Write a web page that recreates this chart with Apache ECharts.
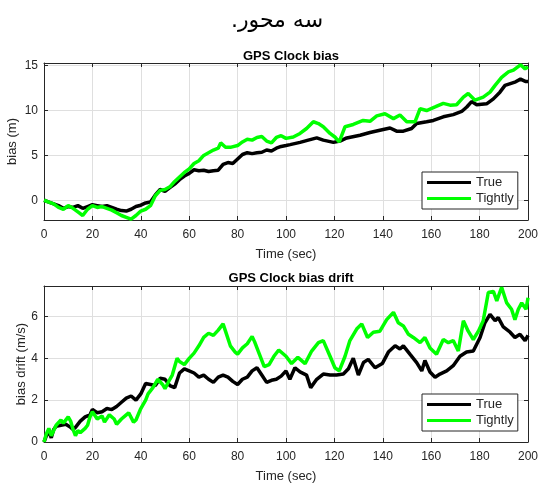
<!DOCTYPE html>
<html>
<head>
<meta charset="utf-8">
<script src="https://cdn.jsdelivr.net/npm/echarts@6/dist/echarts.min.js"></script>
<style>
  html, body { margin: 0; padding: 0; background: #fff; }
  #chart { width: 539px; height: 485px; }
</style>
</head>
<body>
<div id="chart"></div>
<script>
// top plot: clock bias (m)
const biasTrueT = [0, 2, 4, 6, 8, 10, 12, 14, 16, 18, 20, 22, 24, 26, 28, 30, 32, 34, 36, 38, 40, 42, 44, 46, 48, 50, 52, 54, 56, 58, 60, 62, 64, 66, 68, 70, 72, 74, 76, 78, 80, 82, 84, 86, 88, 90, 92, 94, 96, 98,
  100, 101.7, 105.8, 109.2, 112.7, 115.4, 119.6, 122.3, 125.1, 130.6, 134.7, 138.8, 143, 145.7, 148.5, 151.9, 154, 158.1, 160.9, 165, 169.1, 172.6, 174.7, 176.7, 178.8, 182.9, 185.7, 188.4, 190.5, 194.9, 196.9, 198.9, 200]
const biasTrue = [0, -0.2, -0.4, -0.6, -0.9, -0.7, -0.8, -0.6, -0.9, -0.7, -0.5, -0.6, -0.7, -0.6, -0.8, -1.0, -1.15, -1.2, -1.0, -0.7, -0.55, -0.3, -0.2, 0.6, 1.2, 1.0, 1.4, 1.8, 2.3, 2.7, 3.0, 3.4, 3.3, 3.35, 3.2, 3.3, 3.35, 4.0, 4.2, 4.1, 4.6, 5.1, 5.3, 5.2, 5.3, 5.35, 5.6, 5.5, 5.8, 6.0,
  6.1, 6.2, 6.45, 6.7, 6.95, 6.7, 6.45, 6.6, 6.95, 7.25, 7.55, 7.8, 8.05, 7.7, 7.7, 8.0, 8.55, 8.75, 8.9, 9.3, 9.55, 9.9, 10.4, 11.0, 10.65, 10.75, 11.3, 12.05, 12.8, 13.2, 13.5, 13.25, 13.25]
const biasTightT = [0, 2, 4, 6, 8, 10, 12, 14, 16, 18, 20, 22, 24, 26, 28, 30, 32, 34, 36, 38, 40, 42, 44, 46, 48, 50, 52, 54, 56, 58, 60, 62, 64, 66, 68, 70, 72, 73, 75, 77, 80, 82, 84, 86, 88, 90, 92, 94, 96, 98,
  100, 103, 105.8, 108.5, 111.3, 113.4, 115.4, 118.2, 120.2, 122, 124.4, 127.8, 131.9, 134.7, 137.5, 140.9, 144.4, 147.1, 149.9, 153.3, 155.4, 158.1, 161.6, 165, 167.8, 170.5, 173.3, 175.3, 178.1, 181.5, 184.3, 186.4, 189.1, 191.9, 194, 196.9, 198.8, 200]
const biasTight = [0, -0.2, -0.4, -0.8, -1.0, -0.6, -0.9, -1.3, -1.7, -1.0, -0.6, -0.8, -0.7, -0.9, -1.1, -1.4, -1.7, -1.9, -2.1, -1.7, -1.2, -1.0, -0.6, 0.5, 1.1, 1.2, 1.5, 2.1, 2.6, 3.1, 3.5, 4.1, 4.4, 5.0, 5.3, 5.6, 5.8, 6.4, 5.9, 5.9, 6.1, 6.5, 6.8, 6.7, 7.0, 7.1, 6.6, 6.4, 7.0, 7.2,
  6.9, 7.05, 7.45, 8.0, 8.75, 8.55, 8.2, 7.45, 7.05, 6.5, 8.2, 8.45, 8.9, 8.8, 9.4, 9.65, 9.1, 9.5, 8.75, 8.75, 10.2, 10.0, 10.4, 10.8, 10.6, 10.65, 11.5, 11.9, 11.15, 11.5, 12.05, 12.8, 13.7, 14.3, 14.5, 15.1, 14.65, 14.85]

// bottom plot: clock bias drift (m/s)
const driftTrueT = [0, 1, 2, 3, 4, 5, 7, 9, 11, 12, 13, 15, 17, 19, 20, 22, 24, 26, 28, 30, 32, 34, 36, 38, 40, 42, 44, 46, 48, 50, 52, 54, 56, 58, 60, 62, 64, 66, 68, 70, 72, 74, 76, 78, 80, 82, 84, 86, 88, 90, 92, 94, 96, 98,
  100, 101.6, 103.7, 105.8, 108.5, 110.2, 112.7, 115.4, 118.2, 120.9, 123.7, 125.8, 127.8, 129.9, 132, 134, 136.8, 139.8, 142.3, 145.1, 147.1, 148.5, 151.2, 154, 156.1, 157.4, 159.5, 161.6, 163.6, 166.4, 169.1, 171.9, 174.6, 177.4, 180.2, 182.2, 184.3, 186.4, 187.7, 189.8, 192.6, 194.6, 196.7, 198.8, 200]
const driftTrue = [0, 0.3, 0.5, 0.2, 0.6, 0.75, 0.8, 0.85, 0.7, 0.6, 0.7, 1.0, 1.2, 1.3, 1.55, 1.4, 1.45, 1.6, 1.55, 1.7, 1.9, 2.1, 2.2, 2.0, 2.3, 2.8, 2.75, 2.7, 3.05, 3.0, 2.7, 2.6, 3.3, 3.5, 3.4, 3.3, 3.1, 3.2, 3.0, 2.85, 3.1, 3.2, 3.1, 2.9, 2.75, 3.0, 3.1, 3.4, 3.55, 3.2, 2.85, 2.95, 3.0, 3.15,
  3.4, 3.0, 3.55, 3.35, 3.2, 2.6, 3.0, 3.25, 3.2, 3.2, 3.25, 3.5, 4.0, 3.2, 3.8, 3.95, 3.55, 3.75, 4.3, 4.6, 4.45, 4.6, 4.2, 3.8, 3.4, 3.9, 3.35, 3.1, 3.25, 3.4, 3.65, 4.1, 4.3, 4.35, 5.0, 5.7, 6.1, 5.8, 5.95, 5.5, 5.25, 5.0, 5.15, 4.85, 5.1]
const driftTightT = [0, 1, 2, 3, 4, 5, 7, 8, 10, 11, 12, 13, 14, 15, 17, 18, 19, 20, 22, 24, 25, 27, 29, 30, 32, 34, 35, 37, 38, 40, 42, 43, 45, 47, 49, 50, 52, 53, 55, 56, 58, 60, 62, 64, 66, 68, 70, 72, 74, 75, 77, 79, 80, 82, 84, 86, 87, 89, 91, 93, 95, 97,
  100, 102.3, 104.9, 107.9, 110.6, 113.4, 115.4, 118.2, 120.2, 122, 124.4, 126.4, 129.2, 131.3, 133.7, 136.1, 138.8, 141.6, 144.4, 146.4, 148.5, 150.6, 152.6, 155.4, 157.4, 159.5, 162.2, 165, 167.1, 169.1, 171.2, 173.3, 175.3, 177.4, 179.5, 181.5, 183.6, 185.7, 187.1, 189.1, 191.2, 193.2, 194.6, 196, 197.4, 199.2, 200]
const driftTight = [0, 0.4, 0.65, 0.3, 0.55, 0.8, 1.05, 0.9, 1.2, 1.0, 0.6, 0.3, 0.55, 0.45, 0.65, 0.8, 1.2, 1.45, 1.1, 1.25, 0.95, 1.3, 1.1, 0.85, 1.1, 1.3, 1.4, 0.95, 1.05, 1.6, 2.0, 2.3, 2.6, 3.0, 2.75, 2.55, 3.0, 3.2, 4.0, 3.85, 3.7, 4.0, 4.25, 4.6, 5.0, 5.2, 5.1, 5.35, 5.65, 5.3, 4.6, 4.3, 4.2, 4.5, 4.7, 5.05, 4.8, 4.2, 3.6, 3.7, 4.1, 4.4,
  4.1, 3.75, 4.05, 3.75, 4.35, 4.75, 4.85, 4.1, 3.55, 3.4, 4.1, 4.85, 5.4, 5.65, 5.0, 5.25, 5.3, 5.85, 6.2, 5.7, 5.55, 5.15, 5.0, 4.75, 5.0, 4.5, 4.2, 4.9, 4.75, 4.85, 4.35, 5.8, 5.3, 4.9, 5.3, 5.8, 7.15, 7.2, 6.75, 7.4, 6.65, 6.35, 5.85, 6.35, 6.65, 6.35, 6.9]

const timeTicks = [0, 20, 40, 60, 80, 100, 120, 140, 160, 180, 200]

const pairs = (t, v) => t.map((x, i) => [x, v[i]])

const axisColor = '#262626'
const gridColor = '#dfdfdf'
const font = 'Liberation Sans, Arial, sans-serif'

const makeX = (gridIndex, main) => ({
  type: 'value',
  gridIndex: gridIndex,
  position: main ? 'bottom' : 'top',
  min: timeTicks[0],
  max: timeTicks[timeTicks.length - 1],
  interval: timeTicks[1] - timeTicks[0],
  axisLine: { show: true, onZero: false, lineStyle: { color: axisColor, width: 1 } },
  axisTick: { show: true, inside: true, length: 4, lineStyle: { color: axisColor } },
  axisLabel: { show: main, color: axisColor, fontSize: 12, fontFamily: font, margin: 9 },
  splitLine: { show: main, lineStyle: { color: gridColor, width: 1 } },
  name: main ? 'Time (sec)' : '',
  nameLocation: 'middle',
  nameGap: 28,
  nameMoveOverlap: false,
  nameTextStyle: { color: axisColor, fontSize: 13, fontFamily: font }
})

const makeY = (gridIndex, main, opts) => Object.assign({
  type: 'value',
  gridIndex: gridIndex,
  position: main ? 'left' : 'right',
  axisLine: { show: true, onZero: false, lineStyle: { color: axisColor, width: 1 } },
  axisTick: { show: true, inside: true, length: 4, lineStyle: { color: axisColor } },
  axisLabel: { show: main, color: axisColor, fontSize: 12, fontFamily: font, margin: 6, showMinLabel: false, showMaxLabel: false },
  splitLine: { show: main, lineStyle: { color: gridColor, width: 1 } },
  nameLocation: 'middle',
  nameGap: 24,
  nameMoveOverlap: false,
  nameTextStyle: { color: axisColor, fontSize: 13, fontFamily: font }
}, opts)

const legendBox = (top) => ({
  orient: 'vertical',
  left: 422,
  top: top,
  data: ['True', 'Tightly'],
  icon: 'rect',
  itemWidth: 44,
  itemHeight: 3,
  itemGap: 3,
  padding: [4, 4, 4, 5],
  borderColor: axisColor,
  borderWidth: 1,
  backgroundColor: '#fff',
  textStyle: { color: axisColor, fontSize: 13, fontFamily: font },
  selectedMode: false
})

const lineSeries = (name, data, color, xi, yi, z) => ({
  name: name,
  type: 'line',
  xAxisIndex: xi,
  yAxisIndex: yi,
  data: data,
  showSymbol: false,
  symbol: 'none',
  lineStyle: { color: color, width: 3.5 },
  itemStyle: { color: color },
  z: z,
  animation: false
})

const chart = echarts.init(document.getElementById('chart'))
const option = {
  backgroundColor: '#fff',
  animation: false,
  title: [
    { text: '\u202Bسه محور.\u202C', left: 272, top: 5, textAlign: 'center',
      textStyle: { fontSize: 22, fontWeight: 'normal', color: '#000', fontFamily: 'DejaVu Sans' } },
    { text: 'GPS Clock bias', left: 286, top: 45, textAlign: 'center',
      textStyle: { fontSize: 13, fontWeight: 'bold', color: '#000', fontFamily: font } },
    { text: 'GPS Clock bias drift', left: 286, top: 267, textAlign: 'center',
      textStyle: { fontSize: 13, fontWeight: 'bold', color: '#000', fontFamily: font } }
  ],
  // y label of the lower plot sits closer to the axis than ECharts puts it
  graphic: [
    { type: 'text', x: 21, y: 364, rotation: Math.PI / 2,
      style: { text: 'bias drift (m/s)', fill: axisColor, fontSize: 13, fontFamily: font, align: 'center', verticalAlign: 'middle' } }
  ],
  legend: [legendBox(172), legendBox(394)],
  grid: [
    { left: 44, right: 11, top: 63, height: 157, containLabel: false, outerBoundsMode: 'none' },
    { left: 44, right: 11, top: 286, height: 156, containLabel: false, outerBoundsMode: 'none' }
  ],
  xAxis: [makeX(0, true), makeX(0, false), makeX(1, true), makeX(1, false)],
  yAxis: [
    makeY(0, true, { min: -2.2, max: 15.3, splitNumber: 3, name: 'bias (m)', nameGap: 25 }),
    makeY(0, false, { min: -2.2, max: 15.3, splitNumber: 3 }),
    makeY(1, true, { min: 0, max: 7.46, interval: 2,
      axisLabel: { show: true, color: axisColor, fontSize: 12, fontFamily: font, margin: 6, showMinLabel: true, showMaxLabel: false } }),
    makeY(1, false, { min: 0, max: 7.46, interval: 2 })
  ],
  series: [
    lineSeries('True', pairs(biasTrueT, biasTrue), '#000000', 0, 0, 3),
    lineSeries('Tightly', pairs(biasTightT, biasTight), '#00ff00', 0, 0, 4),
    lineSeries('True', pairs(driftTrueT, driftTrue), '#000000', 2, 2, 3),
    lineSeries('Tightly', pairs(driftTightT, driftTight), '#00ff00', 2, 2, 4)
  ]
}
chart.setOption(option)
</script>
</body>
</html>
